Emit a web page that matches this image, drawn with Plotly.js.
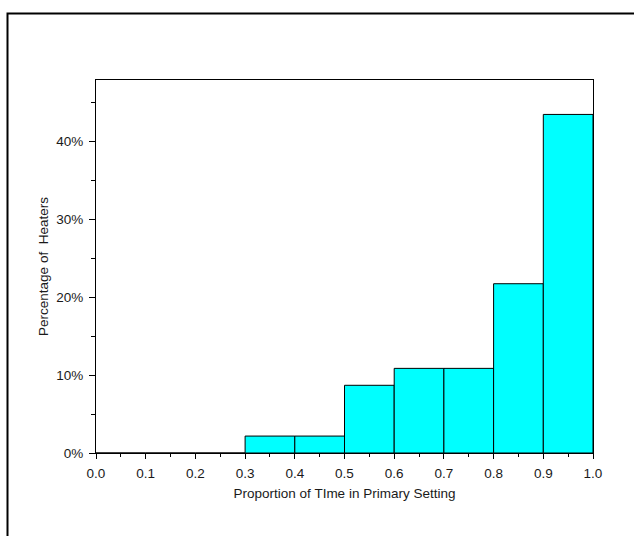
<!DOCTYPE html>
<html>
<head>
<meta charset="utf-8">
<script src="https://cdn.plot.ly/plotly-3.0.1.min.js"></script>
<style>
  html, body { margin: 0; padding: 0; background: #fff; }
  #chart { width: 634px; height: 536px; }
</style>
</head>
<body>
<div id="chart"></div>
<script>
// Histogram of the share of time heaters spend in their primary setting
const binStarts = [0.0, 0.1, 0.2, 0.3, 0.4, 0.5, 0.6, 0.7, 0.8, 0.9];
const heaterCounts = [0, 0, 0, 1, 1, 4, 5, 5, 10, 20];
const binWidth = 0.1;

const total = heaterCounts.reduce((a, b) => a + b, 0);
const binCenters = binStarts.map(s => s + binWidth / 2);
const percentages = heaterCounts.map(c => 100 * c / total);

const trace = {
  type: 'bar',
  x: binCenters,
  y: percentages,
  width: binStarts.map(() => binWidth),
  marker: { color: '#00FFFF', line: { color: '#000000', width: 1 } },
  hoverinfo: 'skip'
};

const font = { family: 'Liberation Sans, Arial, sans-serif', size: 13.5, color: '#1a1a1a' };

const layout = {
  width: 634,
  height: 536,
  margin: { l: 96, r: 41, t: 80, b: 83, pad: 0 },
  paper_bgcolor: '#ffffff',
  plot_bgcolor: '#ffffff',
  font: font,
  showlegend: false,
  bargap: 0,
  xaxis: {
    range: [0, 1],
    tickmode: 'linear', tick0: 0, dtick: 0.1,
    tickformat: '.1f',
    ticks: 'outside', ticklen: 5, tickwidth: 1, tickcolor: '#000',
    ticklabelstandoff: 3,
    minor: { dtick: 0.05, ticks: 'outside', ticklen: 3, tickcolor: '#000', showgrid: false },
    showgrid: false, zeroline: false,
    showline: true, linecolor: '#000', linewidth: 1, mirror: true,
    tickfont: font,
    title: { text: 'Proportion of TIme in Primary Setting', font: font, standoff: 8 }
  },
  yaxis: {
    range: [0, 47.9],
    tickmode: 'linear', tick0: 0, dtick: 10,
    ticksuffix: '%',
    ticks: 'outside', ticklen: 6, tickwidth: 1, tickcolor: '#000',
    ticklabelstandoff: 3,
    minor: { dtick: 5, ticks: 'outside', ticklen: 4, tickcolor: '#000', showgrid: false },
    showgrid: false, zeroline: false,
    showline: true, linecolor: '#000', linewidth: 1, mirror: true,
    tickfont: font,
    title: { text: 'Percentage of  Heaters', font: font, standoff: 4 }
  },
  shapes: [
    {
      // outer frame around the figure
      type: 'rect', xref: 'paper', yref: 'paper',
      x0: (7.5 - 96) / 497, x1: 1.2,
      y0: -0.4, y1: (453 - 13.5) / 373,
      line: { color: '#000', width: 2 },
      fillcolor: 'rgba(0,0,0,0)',
      layer: 'above'
    }
  ]
};

Plotly.newPlot('chart', [trace], layout, { staticPlot: true, displayModeBar: false });
</script>
</body>
</html>
